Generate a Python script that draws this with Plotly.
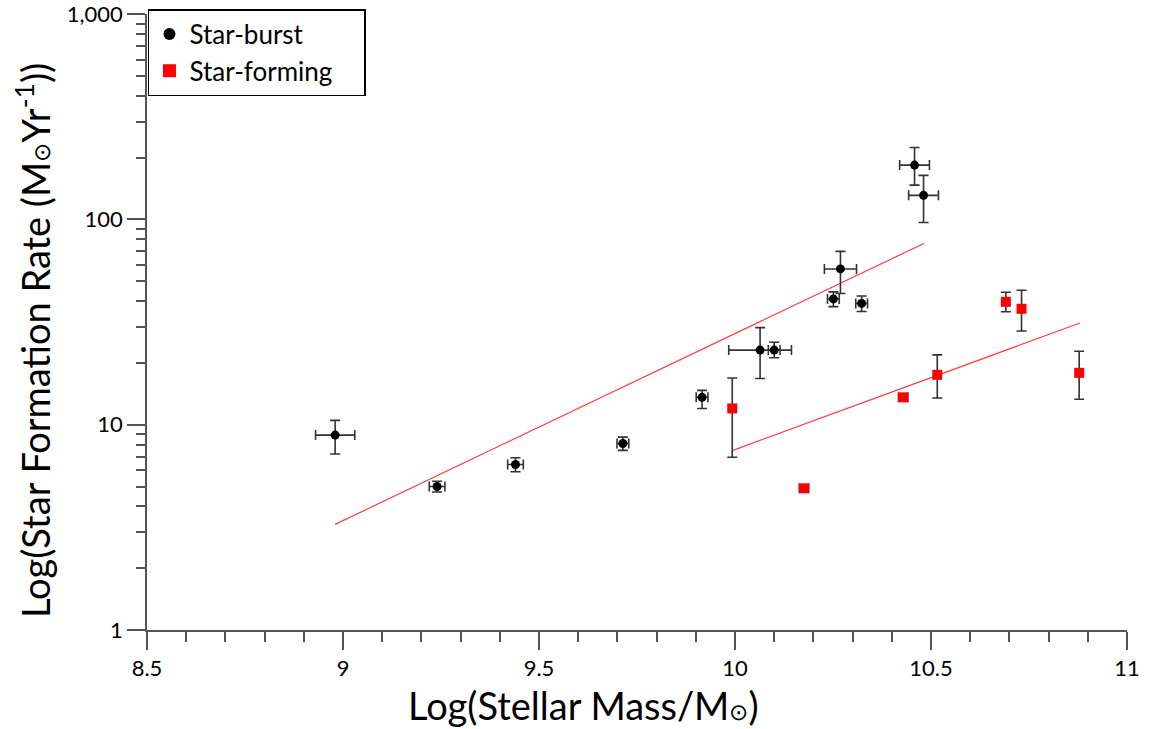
import plotly.graph_objects as go

# ---- data ----
sb_mass = [8.98, 9.24, 9.44, 9.714, 9.916, 10.064, 10.10, 10.251, 10.269, 10.323, 10.458, 10.481]
sb_sfr = [8.9, 5.0, 6.4, 8.1, 13.6, 23.1, 23.1, 41.0, 57.4, 39.0, 184.0, 131.0]
sb_sfr_hi = [10.5, 5.3, 6.9, 8.7, 14.7, 29.7, 25.2, 44.4, 69.9, 42.4, 224.0, 164.0]
sb_sfr_lo = [7.2, 4.7, 5.9, 7.5, 12.0, 16.8, 21.2, 37.6, 43.6, 35.6, 147.0, 96.7]
sb_mass_err = [0.05, 0.02, 0.02, 0.015, 0.015, 0.08, 0.015, 0.015, 0.041, 0.015, 0.038, 0.038]

sf_mass = [9.993, 10.176, 10.429, 10.516, 10.691, 10.731, 10.878]
sf_sfr = [12.0, 4.9, 13.6, 17.5, 39.7, 36.7, 17.9]
sf_sfr_hi = [16.9, 5.05, 14.0, 21.9, 44.2, 45.2, 22.8]
sf_sfr_lo = [6.94, 4.75, 13.2, 13.5, 35.5, 28.6, 13.3]
sf_mass_err = [0.0, 0.012, 0.012, 0.0, 0.0, 0.0, 0.0]

fit_sb_mass = [8.98, 10.482]
fit_sb_sfr = [3.27, 76.4]
fit_sf_mass = [9.993, 10.88]
fit_sf_sfr = [7.48, 31.3]

y_tickvals = [1, 10, 100, 1000]
y_ticktext = ["1", "10", "100", "1,000"]
y_minor = [m * d for d in (1, 10, 100) for m in range(2, 10)]

legend_names = ["Star-burst", "Star-forming"]

x_title = "Log(Stellar Mass/M<span style=\"font-size:23px\">⊙</span>)"
y_title = "Log(Star Formation Rate (M<span style=\"font-size:23px\">⊙</span>Yr<sup>-1</sup>))"

FONT = "Lato, Open Sans, sans-serif"
ERRC = "#333333"
AXC = "#555555"
PAD = "\u00a0" * 4

fig = go.Figure()

fig.add_trace(go.Scatter(
    x=fit_sb_mass, y=fit_sb_sfr, mode="lines",
    line=dict(color="rgba(255,40,40,0.9)", width=1.2), showlegend=False, hoverinfo="skip"))
fig.add_trace(go.Scatter(
    x=fit_sf_mass, y=fit_sf_sfr, mode="lines",
    line=dict(color="rgba(255,40,40,0.9)", width=1.2), showlegend=False, hoverinfo="skip"))

fig.add_trace(go.Scatter(
    x=sb_mass, y=sb_sfr, mode="markers", name=legend_names[0], showlegend=False,
    marker=dict(symbol="circle", size=9, color="black"),
    error_y=dict(type="data", symmetric=False,
                 array=[h - v for h, v in zip(sb_sfr_hi, sb_sfr)],
                 arrayminus=[v - l for v, l in zip(sb_sfr, sb_sfr_lo)],
                 color=ERRC, thickness=1.6, width=5),
    error_x=dict(type="data", array=sb_mass_err, color=ERRC, thickness=1.6, width=5),
))

fig.add_trace(go.Scatter(
    x=sf_mass, y=sf_sfr, mode="markers", name=legend_names[1], showlegend=False,
    marker=dict(symbol="square", size=10, color="#ff0000"),
    error_y=dict(type="data", symmetric=False,
                 array=[h - v for h, v in zip(sf_sfr_hi, sf_sfr)],
                 arrayminus=[v - l for v, l in zip(sf_sfr, sf_sfr_lo)],
                 color=ERRC, thickness=1.6, width=5),
    error_x=dict(type="data", array=sf_mass_err, color=ERRC, thickness=1.6, width=5),
))

# legend-only entries (larger symbols, as in the reference legend)
fig.add_trace(go.Scatter(x=[None], y=[None], mode="markers", name=legend_names[0] + PAD,
                         marker=dict(symbol="circle", size=12, color="black")))
fig.add_trace(go.Scatter(x=[None], y=[None], mode="markers", name=legend_names[1] + PAD,
                         marker=dict(symbol="square", size=13, color="#ff0000")))

fig.update_layout(
    width=1150, height=729,
    margin=dict(l=147, r=23, t=14, b=99, autoexpand=False),
    paper_bgcolor="white", plot_bgcolor="white",
    font=dict(family=FONT, color="black"),
    legend=dict(x=0.001, y=1.008, xanchor="left", yanchor="top",
                bordercolor="black", borderwidth=1.5, bgcolor="white",
                font=dict(size=26, family=FONT, color="black"),
                tracegroupgap=0),
    xaxis=dict(
        range=[8.5, 11], dtick=0.5, tick0=8.5, automargin=False,
        showgrid=False, zeroline=False,
        showline=True, linecolor=AXC, linewidth=1.5,
        ticks="outside", ticklen=18, tickwidth=1.5, tickcolor=AXC,
        ticklabeloverflow="allow",
        tickfont=dict(size=22, family=FONT, color="black"),
        minor=dict(dtick=0.1, ticks="outside", ticklen=10, tickwidth=1.5, tickcolor=AXC, showgrid=False),
    ),
    yaxis=dict(
        type="log", range=[0, 3.0008], automargin=False,
        tickvals=y_tickvals, ticktext=y_ticktext,
        showgrid=False, zeroline=False,
        showline=True, linecolor=AXC, linewidth=1.5,
        ticks="outside", ticklen=18, tickwidth=1.5, tickcolor=AXC,
        ticklabeloverflow="allow",
        tickfont=dict(size=22, family=FONT, color="black"),
        minor=dict(tickvals=y_minor, ticks="outside", ticklen=9, tickwidth=1.5, tickcolor=AXC, showgrid=False),
    ),
    annotations=[
        dict(text=x_title, xref="paper", yref="paper", x=0.445, y=-0.1214,
             xanchor="center", yanchor="middle", showarrow=False,
             font=dict(size=38, family=FONT, color="black")),
        dict(text=y_title, xref="paper", yref="paper", x=-0.1163, y=0.469,
             xanchor="center", yanchor="middle", showarrow=False, textangle=-90,
             font=dict(size=38, family=FONT, color="black")),
    ],
)

fig.write_html("out.html")
